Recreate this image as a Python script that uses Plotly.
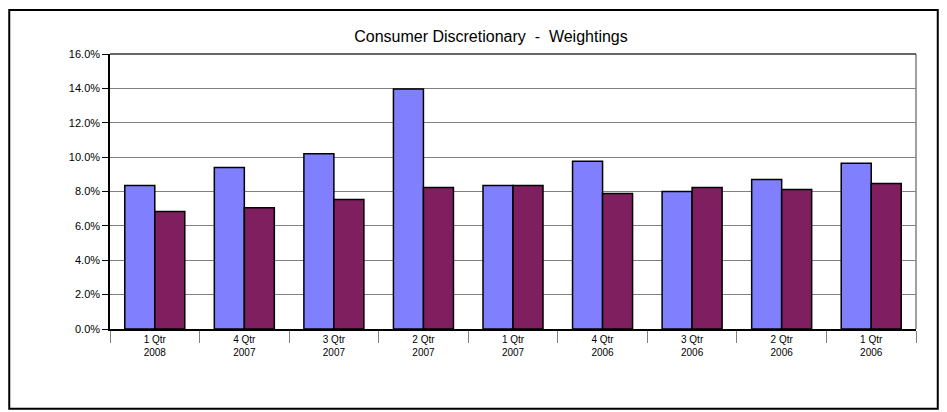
import plotly.graph_objects as go

quarters = ['1 Qtr<br>2008', '4 Qtr<br>2007', '3 Qtr<br>2007', '2 Qtr<br>2007', '1 Qtr<br>2007',
            '4 Qtr<br>2006', '3 Qtr<br>2006', '2 Qtr<br>2006', '1 Qtr<br>2006']
weight_a = [8.35, 9.4, 10.2, 13.97, 8.35, 9.76, 8.0, 8.7, 9.64]
weight_b = [6.83, 7.06, 7.53, 8.23, 8.35, 7.88, 8.23, 8.12, 8.47]

fig = go.Figure()
fig.add_trace(go.Bar(x=quarters, y=[v / 100 for v in weight_a],
                     marker=dict(color='#8080ff', line=dict(color='black', width=1.5))))
fig.add_trace(go.Bar(x=quarters, y=[v / 100 for v in weight_b],
                     marker=dict(color='#7f1f5f', line=dict(color='black', width=1.5))))

fig.update_layout(
    width=947, height=412,
    margin=dict(l=102, r=39, t=46, b=91),
    paper_bgcolor='white', plot_bgcolor='white',
    showlegend=False,
    bargap=0.33, bargroupgap=0,
    font=dict(family='Arial, Liberation Sans', size=11, color='black'),
    title=dict(text='Consumer Discretionary  -  Weightings', x=0.51, xanchor='center',
               y=0.93, yanchor='middle', font=dict(size=16)),
    xaxis=dict(showline=True, linecolor='black', linewidth=2, ticks='outside',
               tickson='boundaries', ticklen=12, tickcolor='gray', tickfont=dict(size=10)),
    yaxis=dict(range=[0, 0.16], dtick=0.02, tickformat='.1%', showgrid=True,
               gridcolor='gray', gridwidth=1, showline=True, linecolor='black', linewidth=1.5,
               ticks='outside', ticklen=6, tickcolor='black', zeroline=False),
    shapes=[
        dict(type='line', xref='paper', yref='paper', x0=1, x1=1, y0=0, y1=1,
             line=dict(color='gray', width=1.5)),
        dict(type='line', xref='paper', yref='paper', x0=0, x1=1, y0=1, y1=1,
             line=dict(color='#333', width=1.5)),
        dict(type='rect', xref='paper', yref='paper', x0=-0.125, x1=1.027, y0=-0.29, y1=1.16,
             line=dict(color='black', width=2)),
    ],
)

fig.write_html("out.html")
